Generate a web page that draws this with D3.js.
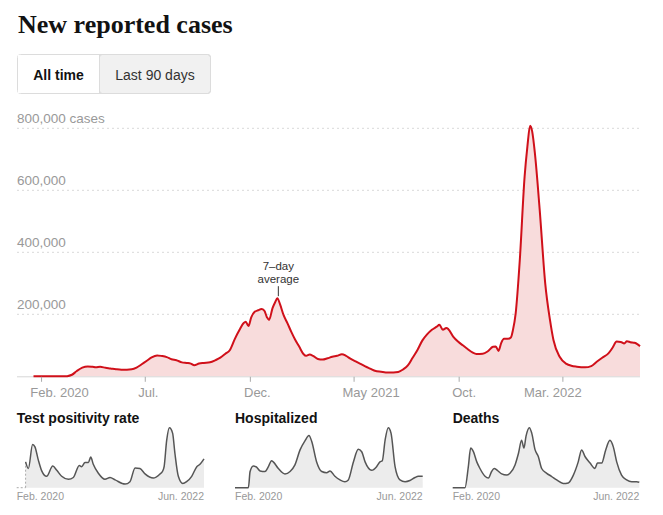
<!DOCTYPE html>
<html>
<head>
<meta charset="utf-8">
<script src="https://cdn.jsdelivr.net/npm/d3@7"></script>
<style>
  html, body { margin: 0; padding: 0; background: #fff; }
  svg { display: block; }
</style>
</head>
<body>
<svg id="chart" width="663" height="515"></svg>
<script>
// ---------------- DATA ----------------
const caseDates = [
  "2020-01-21","2020-02-15","2020-03-05","2020-03-10","2020-03-17","2020-03-24","2020-04-01","2020-04-09","2020-04-16","2020-04-21",
  "2020-04-27","2020-05-05","2020-05-12","2020-05-20","2020-05-28","2020-06-05","2020-06-12","2020-06-19","2020-06-26","2020-07-04",
  "2020-07-11","2020-07-19","2020-07-26","2020-08-02","2020-08-09","2020-08-16","2020-08-24","2020-08-31","2020-09-06","2020-09-11",
  "2020-09-18","2020-09-25","2020-10-04","2020-10-12","2020-10-19","2020-10-26","2020-11-02","2020-11-09","2020-11-16","2020-11-22",
  "2020-11-25","2020-11-29","2020-12-03","2020-12-08","2020-12-13","2020-12-18","2020-12-22","2020-12-26","2020-12-29","2021-01-03",
  "2021-01-07","2021-01-10","2021-01-14","2021-01-19","2021-01-25","2021-01-30","2021-02-05","2021-02-11","2021-02-17","2021-02-21",
  "2021-02-26","2021-03-03","2021-03-10","2021-03-17","2021-03-24","2021-03-31","2021-04-07","2021-04-14","2021-04-20","2021-04-27",
  "2021-05-04","2021-05-11","2021-05-18","2021-05-25","2021-06-01","2021-06-10","2021-06-20","2021-06-28","2021-07-05","2021-07-12",
  "2021-07-19","2021-07-26","2021-08-02","2021-08-09","2021-08-16","2021-08-23","2021-08-30","2021-09-03","2021-09-08","2021-09-13",
  "2021-09-16","2021-09-23","2021-09-30","2021-10-07","2021-10-14","2021-10-21","2021-10-27","2021-11-05","2021-11-12","2021-11-20",
  "2021-11-24","2021-11-28","2021-12-02","2021-12-06","2021-12-12","2021-12-16","2021-12-19","2021-12-23","2021-12-29","2022-01-05",
  "2022-01-09","2022-01-13","2022-01-16","2022-01-20","2022-01-27","2022-02-04","2022-02-11","2022-02-16","2022-02-25","2022-03-07",
  "2022-03-14","2022-03-22","2022-04-03","2022-04-12","2022-04-20","2022-04-28","2022-05-07","2022-05-13","2022-05-19","2022-05-25",
  "2022-05-30","2022-06-03","2022-06-08","2022-06-14","2022-06-18","2022-06-22"
];
const caseValues = [
  0,0,50,500,5000,17000,28000,32000,30500,29000,
  30500,27500,25500,23000,21500,21500,22500,28000,38000,50000,
  61000,67500,65500,62000,55000,52000,45000,43000,41000,35500,
  41000,43000,45000,52000,60000,72000,85000,120000,150000,172000,
  176000,162000,190000,208000,213000,217000,212000,190000,182000,220000,
  240000,252000,232000,198000,170000,145000,118000,95000,72000,66000,
  70000,66000,56000,54000,58000,63000,66000,71000,66000,56000,
  48000,40000,32000,25000,18000,15000,12500,12500,14000,22000,
  35000,60000,85000,115000,135000,150000,160000,166000,150000,156000,
  152000,128000,112000,100000,88000,77000,72000,73000,80000,95000,
  96000,82000,108000,121000,121000,125000,149000,203000,375000,644000,
  740000,808000,790000,719000,536000,300000,181000,117000,63000,40000,
  34000,31000,29000,33000,47000,60000,74000,92000,112000,111000,
  106000,113000,110000,108000,104000,97000
];

const testDates = [
  "2020-03-03","2020-03-16","2020-04-05","2020-04-16","2020-05-02","2020-05-18","2020-06-10","2020-07-09","2020-07-28","2020-08-20",
  "2020-09-21","2020-10-14","2020-11-11","2020-11-22","2020-12-08","2020-12-24","2021-01-04","2021-01-16","2021-02-09","2021-03-12",
  "2021-04-05","2021-04-29","2021-06-15","2021-07-08","2021-08-01","2021-08-24","2021-09-17","2021-10-26","2021-11-27","2021-12-08",
  "2021-12-16","2021-12-28","2022-01-10","2022-01-25","2022-02-05","2022-02-21","2022-03-14","2022-04-01","2022-04-25","2022-05-19",
  "2022-06-03","2022-06-22"
];
const testValues = [
  12.9,9.6,21.6,20.4,13.8,8.4,5.7,10.8,8.7,5.7,
  4.2,5.1,11.1,10.5,12.6,12.6,15.3,11.7,7.2,4.2,
  5.1,3.9,1.8,3.0,9.9,9.6,6.9,4.8,6.9,8.1,
  10.5,23.7,30,27.3,17.1,5.7,2.1,3.0,5.7,10.5,
  11.7,14.4
];

const hospDates = [
  "2020-01-21","2020-03-24","2020-04-01","2020-04-16","2020-04-29","2020-05-18","2020-06-10","2020-06-26","2020-07-11","2020-07-19",
  "2020-08-12","2020-09-12","2020-10-06","2020-10-29","2020-11-22","2020-12-15","2021-01-03","2021-01-16","2021-02-08","2021-03-04",
  "2021-03-27","2021-04-12","2021-05-05","2021-05-29","2021-06-21","2021-07-07","2021-07-31","2021-08-23","2021-09-08","2021-09-24",
  "2021-10-25","2021-11-17","2021-12-03","2021-12-14","2021-12-27","2022-01-11","2022-01-24","2022-02-12","2022-03-07","2022-03-31",
  "2022-04-23","2022-05-17","2022-06-01","2022-06-22"
];
const hospValues = [
  0,0,43000,57600,56000,44800,43200,56000,72000,68800,
  51200,36800,43200,60800,100800,124800,139200,123200,68800,43200,
  40000,44800,30400,20800,16000,20800,68800,102400,96000,68800,
  46400,56000,68800,72000,126400,160000,145600,56000,20800,16000,
  19200,27200,30400,30400
];

const deathDates = [
  "2020-01-21","2020-03-19","2020-04-04","2020-04-15","2020-04-28","2020-05-14","2020-05-29","2020-06-22","2020-07-08","2020-07-23",
  "2020-08-04","2020-08-19","2020-09-09","2020-10-02","2020-10-18","2020-11-11","2020-11-27","2020-12-12","2020-12-23","2021-01-02",
  "2021-01-18","2021-01-29","2021-02-14","2021-03-01","2021-03-17","2021-04-10","2021-05-02","2021-05-27","2021-06-27","2021-07-21",
  "2021-08-14","2021-09-06","2021-09-22","2021-10-08","2021-11-01","2021-11-24","2021-12-06","2021-12-26","2022-01-14","2022-02-03",
  "2022-02-19","2022-03-07","2022-03-30","2022-04-23","2022-05-17","2022-06-10","2022-06-22"
];
const deathValues = [
  0,0,1190,2244,2040,1462,1088,646,544,918,
  1088,986,782,714,816,1292,1938,2686,2244,2924,
  3400,3094,2142,1768,1088,816,646,442,238,272,
  714,1462,2142,1768,1394,1088,1394,1394,2142,2686,
  2312,1462,714,442,340,340,306
];

const xTickDates  = ["2020-02-01","2020-07-01","2020-12-01","2021-05-01","2021-10-01","2022-03-01"];
const xTickLabels = ["Feb. 2020","Jul.","Dec.","May 2021","Oct.","Mar. 2022"];
const yTickValues = [200000, 400000, 600000, 800000];
const yTickLabels = ["200,000","400,000","600,000","800,000 cases"];

const smallTitles = ["Test positivity rate","Hospitalized","Deaths"];
const smallStartLabel = "Feb. 2020";
const smallEndLabel = "Jun. 2022";
const buttonLabels = ["All time","Last 90 days"];
const titleText = "New reported cases";
const annotationLines = ["7\u2013day","average"];
const domainStart = "2020-01-21";
const domainEnd = "2022-06-22";

// ---------------- DRAW ----------------
const parse = d3.timeParse("%Y-%m-%d");
const svg = d3.select("#chart");
const SANS = "'Liberation Sans', Arial, sans-serif";
const SERIF = "'Liberation Serif', 'DejaVu Serif', serif";

// Title
svg.append("text").attr("x", 18).attr("y", 33)
  .attr("font-family", SERIF).attr("font-weight", "bold").attr("font-size", 26)
  .attr("fill", "#121212").text(titleText);

// Buttons
const btnG = svg.append("g");
btnG.append("rect").attr("x", 99.5).attr("y", 54.5).attr("width", 111).attr("height", 39)
  .attr("rx", 3).attr("fill", "#f1f1f1").attr("stroke", "#dcdcdc");
btnG.append("rect").attr("x", 17.5).attr("y", 54.5).attr("width", 193).attr("height", 39)
  .attr("rx", 3).attr("fill", "none").attr("stroke", "#dcdcdc");
btnG.append("rect").attr("x", 18).attr("y", 55).attr("width", 81).attr("height", 38)
  .attr("fill", "#fff");
btnG.append("line").attr("x1", 99.5).attr("x2", 99.5).attr("y1", 54.5).attr("y2", 93.5)
  .attr("stroke", "#dcdcdc");
btnG.append("text").attr("x", 58.5).attr("y", 79.5).attr("text-anchor", "middle")
  .attr("font-family", SANS).attr("font-weight", "bold").attr("font-size", 14)
  .attr("fill", "#121212").text(buttonLabels[0]);
btnG.append("text").attr("x", 155).attr("y", 79.5).attr("text-anchor", "middle")
  .attr("font-family", SANS).attr("font-size", 14)
  .attr("fill", "#333").text(buttonLabels[1]);

// Main chart
const cases = caseDates.map((d, i) => ({ date: parse(d), value: caseValues[i] }));
const x = d3.scaleTime().domain([parse(domainStart), parse(domainEnd)]).range([33.5, 640]);
const y = d3.scaleLinear().domain([0, 800000]).range([376.3, 128.3]);
const plotLeft = 17, plotRight = 640;

// gridlines
svg.append("g").selectAll("line").data(yTickValues).join("line")
  .attr("x1", plotLeft).attr("x2", plotRight)
  .attr("y1", d => y(d)).attr("y2", d => y(d))
  .attr("stroke", "#d9d9d9").attr("stroke-dasharray", "2,3");
svg.append("g").selectAll("text").data(yTickValues).join("text")
  .attr("x", plotLeft).attr("y", d => y(d) - 5)
  .attr("font-family", SANS).attr("font-size", 13.5).attr("fill", "#999")
  .text((d, i) => yTickLabels[i]);

const area = d3.area().x(d => x(d.date)).y0(y(0)).y1(d => y(d.value)).curve(d3.curveMonotoneX);
const line = d3.line().x(d => x(d.date)).y(d => y(d.value)).curve(d3.curveMonotoneX);
svg.append("path").datum(cases).attr("d", area).attr("fill", "#f8dcdc");

// baseline
svg.append("line").attr("x1", plotLeft).attr("x2", plotRight)
  .attr("y1", y(0) + 0.5).attr("y2", y(0) + 0.5).attr("stroke", "#d6d6d6");

svg.append("path").datum(cases).attr("d", line).attr("fill", "none")
  .attr("stroke", "#d0101a").attr("stroke-width", 2).attr("stroke-linejoin", "round");

// x axis
const labelShift = { "Feb. 2020": 18, "Jul.": 3, "Dec.": 7, "May 2021": 17, "Oct.": 5, "Mar. 2022": -10 };
const xAxisG = svg.append("g").attr("transform", `translate(0,${y(0) + 0.5})`);
const xAxis = d3.axisBottom(x).tickValues(xTickDates.map(parse))
  .tickFormat((d, i) => xTickLabels[i]).tickSize(5).tickPadding(6);
xAxisG.call(xAxis);
xAxisG.select(".domain").remove();
xAxisG.selectAll(".tick line").attr("stroke", "#aaa");
xAxisG.selectAll(".tick text")
  .attr("font-family", SANS).attr("font-size", 13).attr("fill", "#999")
  .attr("dx", (d, i) => labelShift[xTickLabels[i]]);

// annotation at the winter 2020-21 peak
const winter = cases.filter(d => d.date >= parse("2020-11-01") && d.date <= parse("2021-03-01"));
const peak = winter.reduce((a, b) => (b.value > a.value ? b : a));
const px = x(peak.date) + 1, py = y(peak.value);
svg.append("line").attr("x1", px).attr("x2", px).attr("y1", py - 12).attr("y2", py - 2)
  .attr("stroke", "#333").attr("stroke-width", 1);
svg.append("text").attr("x", px).attr("y", py - 28).attr("text-anchor", "middle")
  .attr("font-family", SANS).attr("font-size", 11.5).attr("fill", "#333").text(annotationLines[0]);
svg.append("text").attr("x", px).attr("y", py - 15).attr("text-anchor", "middle")
  .attr("font-family", SANS).attr("font-size", 11.5).attr("fill", "#333").text(annotationLines[1]);

// Small multiples
const smalls = [
  { dates: testDates, values: testValues, left: 16.7, right: 204, dotted: true },
  { dates: hospDates, values: hospValues, left: 235, right: 422.7, dotted: false },
  { dates: deathDates, values: deathValues, left: 452.7, right: 639.3, dotted: false }
];
const sTop = 427.7, sBase = 487.7;
smalls.forEach((s, k) => {
  const data = s.dates.map((d, i) => ({ date: parse(d), value: s.values[i] }));
  const sx = d3.scaleTime().domain([parse(domainStart), parse(domainEnd)]).range([s.left, s.right]);
  const sy = d3.scaleLinear().domain([0, d3.max(s.values)]).range([sBase, sTop]);
  const g = svg.append("g");
  g.append("text").attr("x", s.left).attr("y", 423)
    .attr("font-family", SANS).attr("font-weight", "bold").attr("font-size", 14)
    .attr("fill", "#121212").text(smallTitles[k]);
  g.append("path").datum(data)
    .attr("d", d3.area().x(d => sx(d.date)).y0(sBase).y1(d => sy(d.value)).curve(d3.curveMonotoneX))
    .attr("fill", "#ececec");
  if (s.dotted) {
    const first = data[0];
    g.append("line").attr("x1", s.left).attr("x2", sx(first.date)).attr("y1", sBase).attr("y2", sBase)
      .attr("stroke", "#aaa").attr("stroke-dasharray", "2,2");
    g.append("line").attr("x1", sx(first.date)).attr("x2", sx(first.date)).attr("y1", sBase).attr("y2", sy(first.value))
      .attr("stroke", "#aaa").attr("stroke-dasharray", "2,2");
  }
  g.append("path").datum(data)
    .attr("d", d3.line().x(d => sx(d.date)).y(d => sy(d.value)).curve(d3.curveMonotoneX))
    .attr("fill", "none").attr("stroke", "#555").attr("stroke-width", 1.5);
  g.append("text").attr("x", s.left).attr("y", 499.5)
    .attr("font-family", SANS).attr("font-size", 10.5).attr("fill", "#999").text(smallStartLabel);
  g.append("text").attr("x", s.right).attr("y", 499.5).attr("text-anchor", "end")
    .attr("font-family", SANS).attr("font-size", 10.5).attr("fill", "#999").text(smallEndLabel);
});
</script>
</body>
</html>
